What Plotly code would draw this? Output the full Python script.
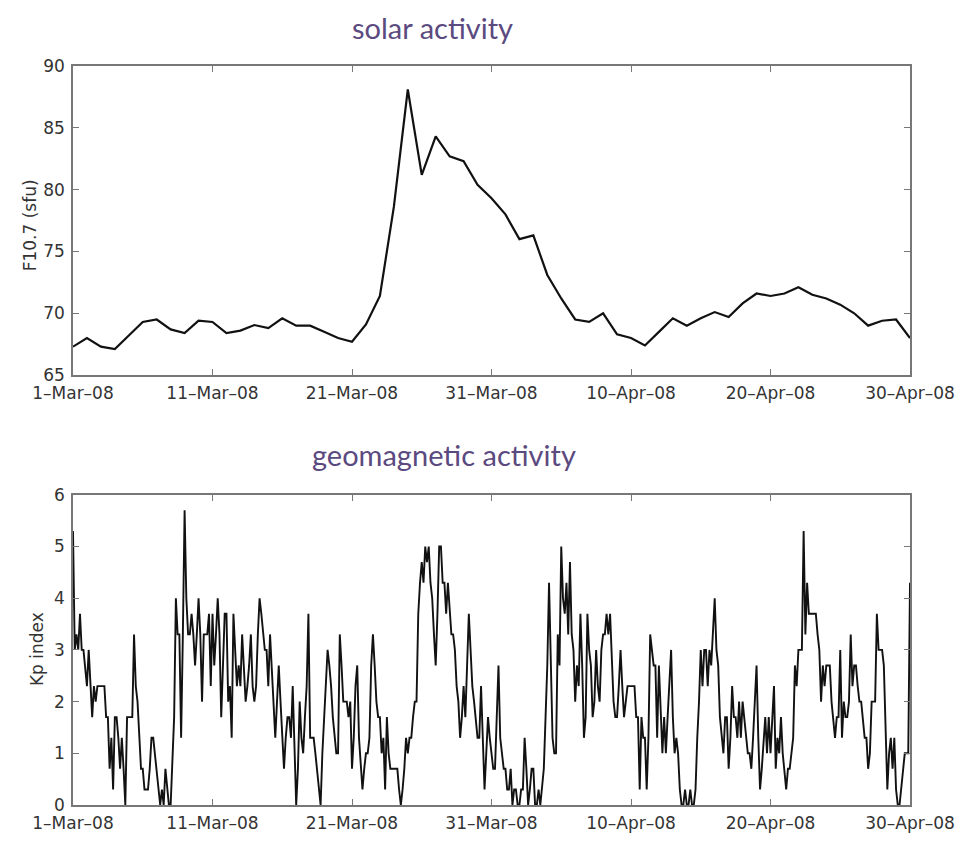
import pandas as pd
import plotly.graph_objects as go
from plotly.subplots import make_subplots

# ---- Solar activity: daily F10.7 (sfu), 1-Mar-08 .. 30-Apr-08
f107_start = "2008-03-01"
f107_values = [
    67.3, 68.0, 67.3, 67.1, 68.2, 69.3, 69.5, 68.7, 68.4, 69.4,
    69.3, 68.4, 68.6, 69.05, 68.8, 69.6, 69.0, 69.0, 68.5, 68.0,
    67.7, 69.1, 71.4, 78.6, 88.1, 81.2, 84.3, 82.7, 82.3, 80.4,
    79.3, 78.0, 76.0, 76.3, 73.1, 71.2, 69.5, 69.3, 70.0, 68.3,
    68.0, 67.4, 68.5, 69.6, 69.0, 69.6, 70.1, 69.7, 70.8, 71.6,
    71.4, 71.6, 72.1, 71.5, 71.2, 70.7, 70.0, 69.0, 69.4, 69.5,
    68.0,
]

# ---- Geomagnetic activity: 3-hourly Kp index (8 values per day)
kp_start = "2008-03-01 00:00"
kp_days = [
    [5.3, 3.0, 3.3, 3.0, 3.7, 3.0, 3.0, 2.7],   # 1 Mar
    [2.3, 3.0, 2.3, 1.7, 2.3, 2.0, 2.3, 2.3],
    [2.3, 2.3, 2.3, 1.7, 1.7, 0.7, 1.3, 0.3],
    [1.7, 1.7, 1.3, 0.7, 1.3, 0.7, 0.0, 1.7],
    [1.7, 1.7, 1.7, 3.3, 2.3, 2.0, 1.3, 0.7],
    [0.7, 0.3, 0.3, 0.3, 0.7, 1.3, 1.3, 1.0],
    [0.7, 0.3, 0.0, 0.3, 0.0, 0.7, 0.3, 0.0],
    [0.0, 0.7, 1.7, 4.0, 3.3, 3.3, 1.3, 3.3],
    [5.7, 4.0, 3.3, 3.3, 3.7, 3.3, 2.7, 3.3],
    [4.0, 3.3, 2.0, 3.3, 3.3, 3.3, 3.7, 2.3],
    [3.7, 2.7, 3.3, 4.0, 3.3, 1.7, 2.7, 3.7],   # 11 Mar
    [3.7, 2.0, 2.3, 1.3, 3.7, 3.0, 2.3, 2.7],
    [2.3, 3.3, 2.7, 2.0, 2.3, 2.7, 3.3, 2.3],
    [2.0, 2.3, 3.3, 4.0, 3.7, 3.3, 3.0, 3.0],
    [2.3, 3.3, 2.7, 2.0, 1.3, 2.0, 2.7, 2.0],
    [1.3, 0.7, 1.3, 1.7, 1.7, 1.3, 2.3, 1.3],
    [0.0, 0.7, 2.0, 1.3, 1.0, 1.7, 2.3, 3.7],
    [1.3, 1.3, 1.3, 1.0, 0.7, 0.3, 0.0, 1.0],
    [1.7, 2.3, 3.0, 2.7, 2.3, 1.7, 1.3, 1.0],
    [1.0, 3.3, 2.7, 2.0, 2.0, 2.0, 1.7, 2.0],
    [0.7, 1.3, 2.3, 2.7, 1.3, 0.7, 0.3, 0.7],   # 21 Mar
    [1.0, 1.0, 1.3, 2.7, 3.3, 2.7, 2.0, 1.7],
    [1.7, 1.0, 1.3, 0.3, 1.7, 1.0, 0.7, 0.7],
    [0.7, 0.7, 0.7, 0.3, 0.0, 0.3, 0.7, 1.3],
    [1.0, 1.3, 1.3, 1.7, 2.0, 2.0, 3.7, 4.3],
    [4.7, 4.3, 5.0, 4.7, 5.0, 4.3, 4.0, 3.3],
    [2.7, 3.7, 5.0, 5.0, 4.3, 4.3, 3.7, 4.3],
    [3.7, 3.3, 3.3, 3.0, 2.3, 2.0, 1.3, 1.7],
    [2.3, 1.7, 2.7, 3.7, 3.0, 2.3, 2.0, 1.7],
    [1.3, 1.3, 2.3, 1.3, 0.3, 1.0, 1.7, 1.3],
    [1.0, 0.7, 0.7, 1.7, 2.7, 1.3, 1.0, 0.7],   # 31 Mar
    [0.7, 0.3, 0.3, 0.7, 0.0, 0.3, 0.3, 0.0],
    [0.0, 0.3, 0.3, 1.3, 0.7, 0.0, 0.3, 0.7],
    [0.7, 0.0, 0.0, 0.3, 0.0, 0.3, 0.7, 1.7],
    [2.7, 4.3, 3.0, 1.3, 1.0, 1.0, 3.3, 2.7],
    [5.0, 4.0, 3.7, 4.3, 3.3, 4.7, 3.3, 3.0],
    [2.0, 2.7, 2.3, 3.7, 2.7, 1.3, 1.7, 3.7],
    [3.0, 2.7, 1.7, 2.0, 3.0, 2.3, 2.0, 3.0],
    [3.3, 3.3, 3.7, 3.3, 3.7, 3.0, 2.0, 1.7],
    [1.7, 2.3, 3.0, 2.3, 1.7, 2.0, 2.3, 2.3],
    [2.3, 2.3, 2.3, 1.7, 1.7, 0.3, 1.7, 1.3],   # 10 Apr
    [1.3, 0.3, 1.3, 3.3, 3.0, 2.7, 2.7, 1.3],
    [2.7, 1.7, 1.0, 1.7, 1.0, 1.7, 2.3, 3.0],
    [1.7, 1.0, 1.3, 1.0, 0.3, 0.0, 0.0, 0.3],
    [0.0, 0.0, 0.3, 0.0, 0.0, 0.3, 1.3, 2.0],
    [3.0, 2.3, 3.0, 3.0, 2.3, 3.0, 2.7, 3.3],
    [4.0, 3.0, 2.7, 1.7, 1.3, 1.0, 1.7, 1.7],
    [0.7, 1.3, 2.3, 1.7, 1.7, 1.3, 2.0, 1.3],
    [2.0, 1.7, 1.3, 1.0, 1.0, 0.7, 1.3, 2.0],
    [2.7, 1.3, 0.3, 0.7, 1.3, 1.7, 1.0, 1.7],
    [1.0, 1.7, 2.3, 0.7, 1.3, 1.0, 1.7, 1.0],   # 20 Apr
    [0.7, 0.3, 0.7, 0.7, 1.0, 1.3, 2.7, 2.3],
    [3.0, 3.0, 3.0, 5.3, 3.3, 4.3, 3.7, 3.7],
    [3.7, 3.7, 3.7, 3.3, 3.0, 2.0, 2.7, 2.3],
    [2.7, 2.7, 2.7, 2.0, 1.7, 1.3, 1.7, 1.7],
    [3.0, 1.3, 2.0, 1.7, 1.7, 2.0, 3.3, 2.3],
    [2.7, 2.7, 2.3, 2.0, 2.0, 1.7, 1.3, 1.3],
    [0.7, 1.0, 2.0, 2.0, 2.0, 3.7, 3.0, 3.0],
    [3.0, 2.7, 1.3, 0.3, 1.0, 1.3, 0.7, 1.3],
    [0.3, 0.0, 0.0, 0.3, 0.7, 1.0, 1.0, 1.0],
]
kp_last = [4.3]   # 30 Apr 00:00

# ---- Axis ticks
tick_dates = ["2008-03-01", "2008-03-11", "2008-03-21", "2008-03-31",
              "2008-04-10", "2008-04-20", "2008-04-30"]
tick_labels = ["1\u2013Mar\u201308", "11\u2013Mar\u201308", "21\u2013Mar\u201308",
               "31\u2013Mar\u201308", "10\u2013Apr\u201308", "20\u2013Apr\u201308",
               "30\u2013Apr\u201308"]

f107_dates = pd.date_range(f107_start, periods=len(f107_values), freq="D")
kp_values = [v for day in kp_days for v in day] + kp_last
kp_dates = pd.date_range(kp_start, periods=len(kp_values), freq="3h")

fig = make_subplots(rows=2, cols=1, vertical_spacing=0.162)
fig.add_trace(go.Scatter(x=f107_dates, y=f107_values, mode="lines",
                         line=dict(color="#111111", width=2.2),
                         showlegend=False), row=1, col=1)
fig.add_trace(go.Scatter(x=kp_dates, y=kp_values, mode="lines",
                         line=dict(color="#111111", width=1.9),
                         showlegend=False), row=2, col=1)

tick_font = dict(family="DejaVu Sans", size=17, color="#333333")
axis_common = dict(showline=True, linecolor="#777777", linewidth=1.5,
                   mirror="ticks", ticks="inside", ticklen=6,
                   tickcolor="#777777", showgrid=False, zeroline=False,
                   tickfont=tick_font)

for r in (1, 2):
    fig.update_xaxes(type="date", range=[tick_dates[0], tick_dates[-1]],
                     tickvals=tick_dates, ticktext=tick_labels,
                     ticklabelstandoff=2, row=r, col=1, **axis_common)

fig.update_yaxes(range=[65, 90], tickvals=[65, 70, 75, 80, 85, 90],
                 ticklabelstandoff=3, row=1, col=1, **axis_common)
fig.update_yaxes(range=[0, 6], tickvals=[0, 1, 2, 3, 4, 5, 6],
                 ticklabelstandoff=3, row=2, col=1, **axis_common)

fig.update_layout(
    width=968, height=837,
    margin=dict(l=65, r=66, t=58, b=26),
    paper_bgcolor="white", plot_bgcolor="white",
    yaxis=dict(domain=[0.5817, 1.0]),
    yaxis2=dict(domain=[0.0, 0.4197]),
    annotations=[
        dict(text="solar activity", x=0.430, y=1.052, xref="paper", yref="paper",
             showarrow=False, xanchor="center", yanchor="middle",
             font=dict(family="Lato", size=29, color="#5b4a80")),
        dict(text="geomagnetic activity", x=0.443, y=0.474, xref="paper", yref="paper",
             showarrow=False, xanchor="center", yanchor="middle",
             font=dict(family="Lato", size=29, color="#5b4a80")),
        dict(text="F10.7 (sfu)", x=-0.052, y=0.785, xref="paper", yref="paper",
             showarrow=False, textangle=-90, xanchor="center", yanchor="middle",
             font=dict(family="DejaVu Sans", size=17, color="#333333")),
        dict(text="Kp index", x=-0.043, y=0.211, xref="paper", yref="paper",
             showarrow=False, textangle=-90, xanchor="center", yanchor="middle",
             font=dict(family="DejaVu Sans", size=17, color="#333333")),
    ],
)

fig.write_html("out.html")
